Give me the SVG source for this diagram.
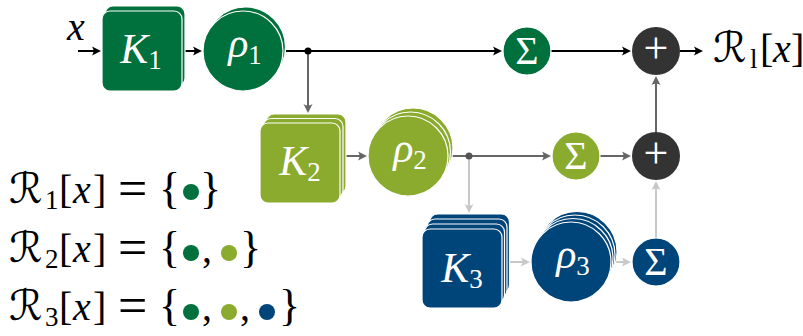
<svg xmlns="http://www.w3.org/2000/svg" width="803" height="336" viewBox="0 0 803 336">
<style>
.t{font-size:40px;fill:#000}
.r{font-size:42px;fill:#000}
.i{font-style:italic}
.w{fill:#fff}
.sub{font-size:27px;font-style:normal}
.g1{fill:#00703c;stroke:#fff;stroke-width:1.2}
.g2{fill:#8aab2e;stroke:#fff;stroke-width:1.2}
.g3{fill:#00457a;stroke:#fff;stroke-width:1.2}
.dk{fill:#333333}
.c1{stroke:#000;stroke-width:2;fill:none}
.c2{stroke:#666;stroke-width:2;fill:none}
.c3{stroke:#c8c8c8;stroke-width:2;fill:none}
.h1{fill:#000}
.h2{fill:#666}
.h3{fill:#c8c8c8}
.lab{font-size:42px}
.sig{font-size:40px;text-anchor:middle}
.pl{font-size:44px;text-anchor:middle}
.br{font-size:44px}
.eq{font-size:52px}
</style>

<g id="connectors">
  <path class="c1" d="M78,51 H96"/>
  <path class="h1" d="M101,51 L92,46.5 Q95,51 92,55.5 Z"/>
  <path class="c1" d="M185,51 H197"/>
  <path class="h1" d="M202,51 L193,46.5 Q196,51 193,55.5 Z"/>
  <path class="c1" d="M286,51 H497"/>
  <path class="h1" d="M502,51 L493,46.5 Q496,51 493,55.5 Z"/>
  <path class="c2" d="M308,51 V108"/>
  <path class="h2" d="M308,113 L303.5,104 Q308,107 312.5,104 Z"/>
  <path class="c1" d="M551,51 H626"/>
  <path class="h1" d="M631,51 L622,46.5 Q625,51 622,55.5 Z"/>
  <path class="c1" d="M680,51 H698"/>
  <path class="h1" d="M703,51 L694,46.5 Q697,51 694,55.5 Z"/>
  <path class="c2" d="M342,156 H362"/>
  <path class="h2" d="M367,156 L358,151.5 Q361,156 358,160.5 Z"/>
  <path class="c2" d="M452,156 H546"/>
  <path class="h2" d="M551,156 L542,151.5 Q545,156 542,160.5 Z"/>
  <path class="c2" d="M600,156 H626"/>
  <path class="h2" d="M631,156 L622,151.5 Q625,156 622,160.5 Z"/>
  <path class="c2" d="M656,132 V81"/>
  <path class="h2" d="M656,76 L651.5,85 Q656,82 660.5,85 Z"/>
  <path class="c3" d="M469,156 V208"/>
  <path class="h3" d="M469,213 L464.5,204 Q469,207 473.5,204 Z"/>
  <path class="c3" d="M510,262 H525"/>
  <path class="h3" d="M530,262 L521,257.5 Q524,262 521,266.5 Z"/>
  <path class="c3" d="M616,262 H626"/>
  <path class="h3" d="M631,262 L622,257.5 Q625,262 622,266.5 Z"/>
  <path class="c3" d="M656,238 V186"/>
  <path class="h3" d="M656,181 L651.5,190 Q656,187 660.5,190 Z"/>
  <circle cx="308" cy="51" r="3.5" fill="#000"/>
  <circle cx="469" cy="156" r="3.5" fill="#555"/>
</g>

<g id="input">
  <text class="t i" font-family="Times New Roman" x="67" y="40">x</text>
</g>

<g id="K1">
  <rect class="g1" x="105" y="6" width="80" height="80" rx="8"/>
  <rect class="g1" x="102" y="11" width="80" height="80" rx="8"/>
  <text class="t w lab" font-family="Times New Roman" x="141" y="63" text-anchor="middle"><tspan class="i">K</tspan><tspan class="sub" dy="6">1</tspan></text>
</g>

<g id="rho1">
  <circle class="g1" cx="245.5" cy="47" r="40"/>
  <circle class="g1" cx="243" cy="51" r="40"/>
  <text class="t w lab" font-family="Times New Roman" x="245" y="57" text-anchor="middle"><tspan class="i">ρ</tspan><tspan class="sub" dy="7">1</tspan></text>
</g>

<g id="sum1">
  <circle class="g1" cx="527" cy="51" r="24"/>
  <text class="t w sig" font-family="Times New Roman" x="527" y="64">Σ</text>
</g>

<g id="plus1">
  <circle class="dk" cx="656" cy="51" r="24"/>
  <text class="t w pl" font-family="Times New Roman" x="656" y="63">+</text>
</g>

<g id="output">
  <text class="r" font-family="DejaVu Sans" x="713" y="62">ℛ</text>
  <text class="t" font-family="Times New Roman" y="62"><tspan class="i sub" x="750" dy="6">l</tspan><tspan x="760" dy="-6">[</tspan><tspan class="i" x="773">x</tspan><tspan x="791">]</tspan></text>
</g>

<g id="K2">
  <rect class="g2" x="266" y="114" width="80" height="80" rx="8"/>
  <rect class="g2" x="263" y="118.5" width="80" height="80" rx="8"/>
  <rect class="g2" x="260" y="123" width="80" height="80" rx="8"/>
  <text class="t w lab" font-family="Times New Roman" x="300" y="175" text-anchor="middle"><tspan class="i">K</tspan><tspan class="sub" dy="6">2</tspan></text>
</g>

<g id="rho2">
  <circle class="g2" cx="413" cy="148" r="40"/>
  <circle class="g2" cx="410.5" cy="152" r="40"/>
  <circle class="g2" cx="408" cy="156" r="40"/>
  <text class="t w lab" font-family="Times New Roman" x="410" y="162" text-anchor="middle"><tspan class="i">ρ</tspan><tspan class="sub" dy="7">2</tspan></text>
</g>

<g id="sum2">
  <circle class="g2" cx="576" cy="156" r="24"/>
  <text class="t w sig" font-family="Times New Roman" x="576" y="169">Σ</text>
</g>

<g id="plus2">
  <circle class="dk" cx="656" cy="156" r="24"/>
  <text class="t w pl" font-family="Times New Roman" x="656" y="168">+</text>
</g>

<g id="K3">
  <rect class="g3" x="429.5" y="214" width="80" height="79" rx="8"/>
  <rect class="g3" x="427" y="219" width="80" height="79" rx="8"/>
  <rect class="g3" x="424.5" y="224" width="80" height="79" rx="8"/>
  <rect class="g3" x="422" y="229" width="80" height="79" rx="8"/>
  <text class="t w lab" font-family="Times New Roman" x="462" y="282" text-anchor="middle"><tspan class="i">K</tspan><tspan class="sub" dy="6">3</tspan></text>
</g>

<g id="rho3">
  <circle class="g3" cx="577" cy="251.5" r="40"/>
  <circle class="g3" cx="575" cy="255" r="40"/>
  <circle class="g3" cx="573" cy="258.5" r="40"/>
  <circle class="g3" cx="571" cy="262" r="40"/>
  <text class="t w lab" font-family="Times New Roman" x="573" y="268" text-anchor="middle"><tspan class="i">ρ</tspan><tspan class="sub" dy="7">3</tspan></text>
</g>

<g id="sum3">
  <circle class="g3" cx="656" cy="262" r="24"/>
  <text class="t w sig" font-family="Times New Roman" x="656" y="275">Σ</text>
</g>

<g id="legend">
  <text class="r" font-family="DejaVu Sans" x="9" y="203">ℛ</text>
  <text class="t" font-family="Times New Roman" y="203"><tspan class="sub" x="45" dy="6">1</tspan><tspan x="59" dy="-6">[</tspan><tspan class="i" x="73">x</tspan><tspan x="93">]</tspan></text>
  <text class="t eq" font-family="Times New Roman" x="118" y="206">=</text>
  <text class="t br" font-family="Times New Roman" y="203"><tspan x="159">{</tspan><tspan x="200">}</tspan></text>
  <circle cx="191" cy="192" r="8" fill="#00703c"/>

  <text class="r" font-family="DejaVu Sans" x="9" y="262">ℛ</text>
  <text class="t" font-family="Times New Roman" y="262"><tspan class="sub" x="45" dy="6">2</tspan><tspan x="59" dy="-6">[</tspan><tspan class="i" x="73">x</tspan><tspan x="93">]</tspan></text>
  <text class="t eq" font-family="Times New Roman" x="118" y="265">=</text>
  <text class="t br" font-family="Times New Roman" y="262"><tspan x="159">{</tspan><tspan x="240">}</tspan></text>
  <text class="t" font-family="Times New Roman" x="202" y="262">,</text>
  <circle cx="191" cy="253" r="8" fill="#00703c"/>
  <circle cx="229" cy="253" r="8" fill="#8aab2e"/>

  <text class="r" font-family="DejaVu Sans" x="9" y="320">ℛ</text>
  <text class="t" font-family="Times New Roman" y="320"><tspan class="sub" x="45" dy="6">3</tspan><tspan x="59" dy="-6">[</tspan><tspan class="i" x="73">x</tspan><tspan x="93">]</tspan></text>
  <text class="t eq" font-family="Times New Roman" x="118" y="323">=</text>
  <text class="t br" font-family="Times New Roman" y="320"><tspan x="159">{</tspan><tspan x="279">}</tspan></text>
  <text class="t" font-family="Times New Roman" x="202" y="320">,</text>
  <text class="t" font-family="Times New Roman" x="240" y="320">,</text>
  <circle cx="191" cy="312" r="8" fill="#00703c"/>
  <circle cx="229" cy="312" r="8" fill="#8aab2e"/>
  <circle cx="267" cy="312" r="8" fill="#00457a"/>
</g>
</svg>
